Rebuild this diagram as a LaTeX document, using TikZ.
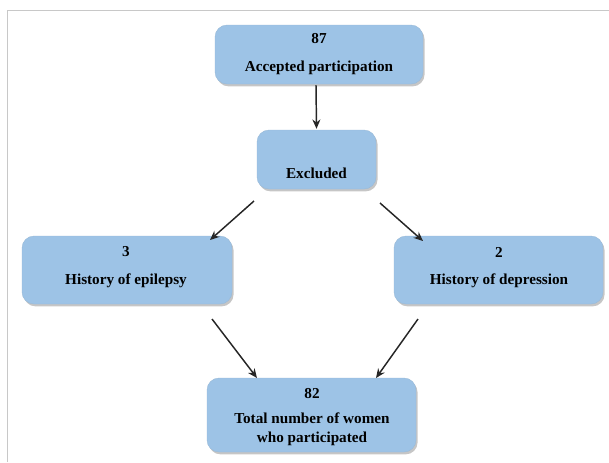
\documentclass[tikz,border=0pt]{standalone}
\usepackage{fontspec}
\setmainfont{Liberation Serif}
\usetikzlibrary{shadows,arrows.meta,calc}
\definecolor{boxblue}{RGB}{157,195,230}
\definecolor{framegrey}{RGB}{200,200,200}
\tikzset{
  fbox/.style={draw=boxblue!85!gray, line width=0.3pt, fill=boxblue, rounded corners=9pt, inner sep=0pt,
     drop shadow={shadow xshift=1.2pt, shadow yshift=-1.8pt, opacity=0.45, fill=gray}},
  lbl/.style={font=\bfseries\fontsize{11.4}{14}\selectfont, align=center, inner sep=0pt},
  arr/.style={-{Stealth[length=7pt,width=6pt]}, line width=1.1pt, black!85},
}
\begin{document}
\begin{tikzpicture}[x=0.75pt,y=-0.75pt]
\useasboundingbox (0,0) rectangle (609,462);
\draw[framegrey, line width=1pt] (7.5,462) -- (7.5,10.5) -- (609,10.5);
% boxes
\node[fbox, minimum width=208*0.75pt, minimum height=59*0.75pt] (b1) at (319,54.5) {};
\node[fbox, minimum width=119*0.75pt, minimum height=59*0.75pt] (b2) at (316.5,159.5) {};
\node[fbox, minimum width=210*0.75pt, minimum height=68*0.75pt] (b3) at (127,270) {};
\node[fbox, minimum width=209*0.75pt, minimum height=68*0.75pt] (b4) at (498.5,270) {};
\node[fbox, minimum width=209*0.75pt, minimum height=74*0.75pt] (b5) at (311.5,415) {};
% texts
\node[lbl] (t1a) at (319,39) {87};
\node[lbl] (t1b) at (319,68) {Accepted participation};
\node[lbl] (t2) at (316.5,173) {Excluded};
\node[lbl] (t3a) at (126,252) {3};
\node[lbl] (t3b) at (126,281) {History of epilepsy};
\node[lbl] (t4a) at (499,252) {2};
\node[lbl] (t4b) at (499,281) {History of depression};
\node[lbl] (t5a) at (312,394) {82};
\node[lbl] (t5b) at (312,429) {Total number of women\\who participated};
% arrow coordinates
\coordinate (s12) at ($(b1.south)+(-3,1)$);
\coordinate (e12) at ($(b2.north)+(0,-1)$);
\coordinate (s23) at (254,201);
\coordinate (e23) at (210,240);
\coordinate (s24) at (380,203);
\coordinate (e24) at (423,241);
\coordinate (s35) at (212,319);
\coordinate (e35) at (257,378);
\coordinate (s45) at (418,319);
\coordinate (e45) at (376,378);
\draw[arr] (s12) -- (e12);
\draw[arr] (s23) -- (e23);
\draw[arr] (s24) -- (e24);
\draw[arr] (s35) -- (e35);
\draw[arr] (s45) -- (e45);
\end{tikzpicture}
\end{document}
